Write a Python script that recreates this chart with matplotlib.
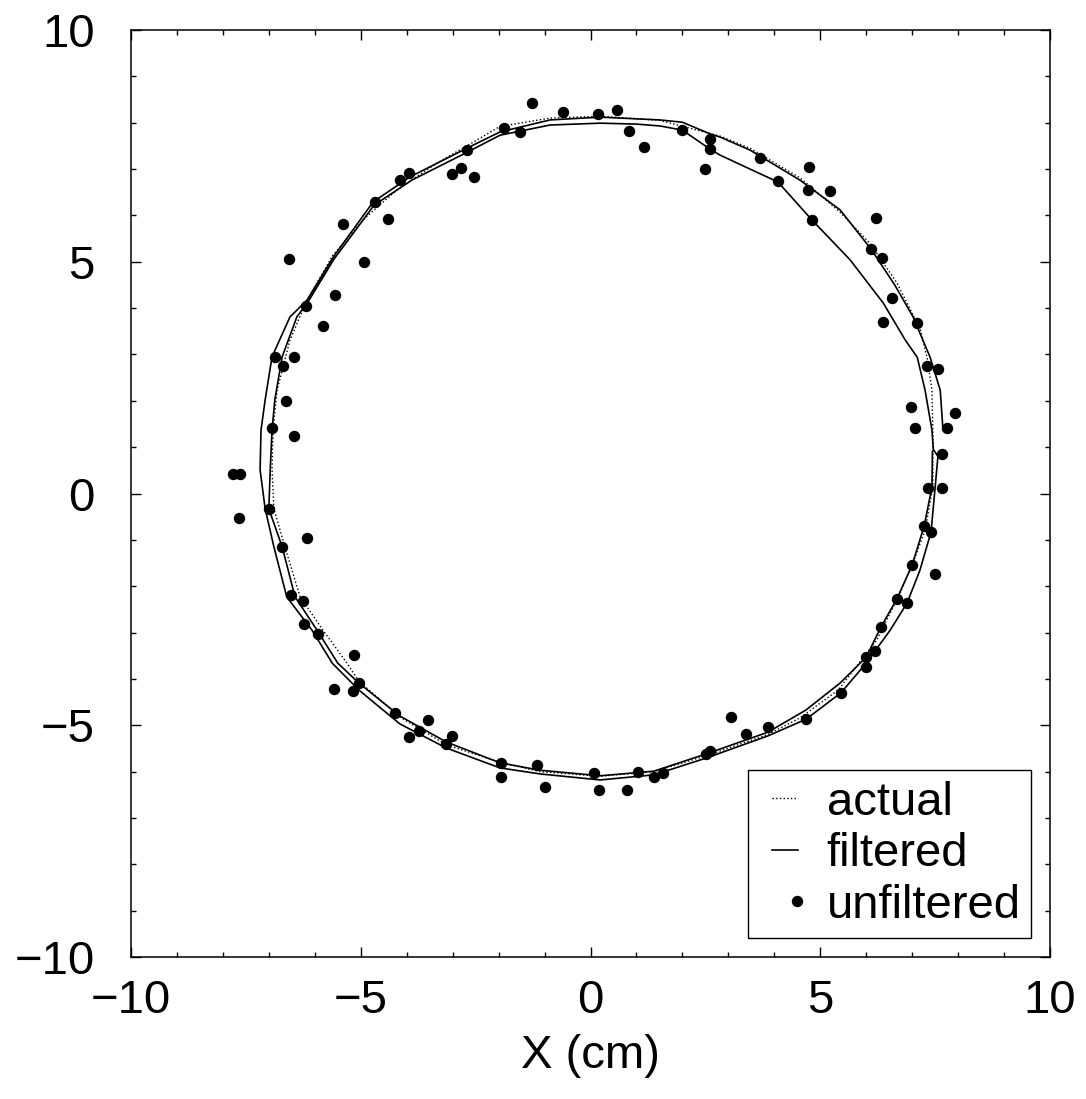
import numpy as np
import matplotlib.pyplot as plt
from matplotlib.legend_handler import HandlerLine2D

plt.rcParams['font.family'] = ['Liberation Sans', 'DejaVu Sans']

# actual trajectory (dotted), clockwise from the top
actual_x = [0.21, 1.51, 2.82, 3.47, 4.56, 5.43, 6.08, 6.67, 7.18, 7.33, 7.43, 7.45, 7.45,
            7.28, 7.00, 6.67, 6.23, 5.39, 4.56, 3.86,
            2.51, 1.38, 0.21, -1.10, -1.97, -3.14, -4.15, -5.04,
            -5.30, -5.82, -6.32, -6.65, -6.89, -6.93, -6.91,
            -6.82, -6.54, -6.17, -5.60, -4.91, -4.21, -3.34, -2.69, -1.97, -0.88, 0.21]
actual_y = [8.14, 8.05, 7.71, 7.45, 6.81, 6.07, 5.40, 4.54, 3.53, 2.90, 2.23, 1.31, 0.14,
            -0.79, -1.54, -2.28, -3.16, -4.24, -4.84, -5.20,
            -5.66, -6.00, -6.10, -6.00, -5.80, -5.42, -4.82, -4.05,
            -3.66, -2.95, -2.23, -1.15, -0.33, 0.51, 1.37,
            2.23, 3.31, 4.17, 5.15, 5.94, 6.55, 7.13, 7.50, 7.92, 8.10, 8.14]

# filtered estimate: goes round about twice (inner loop, then outer loop)
filt_x = [7.44, 7.43, 7.26, 7.00, 6.67, 6.32, 6.00, 5.43, 4.69, 3.86,
          2.51, 1.38, 0.21, -1.10, -1.97, -3.14, -4.15, -5.04,
          -5.50, -5.95, -6.43, -6.71, -7.00, -6.97, -6.93,
          -6.87, -6.71, -6.39, -6.15, -5.58, -4.71, -3.89, -2.67, -1.97, -0.88, 0.21, 1.00, 1.51,
          2.00, 2.60, 2.82,
          3.47, 4.08, 4.82, 5.65, 6.37, 6.85, 7.11, 7.28, 7.43, 7.46,
          7.56, 7.50, 7.41, 7.17, 6.89, 6.52, 6.19, 5.87, 5.45, 4.69, 3.86,
          2.51, 1.38, 0.21, -1.10, -1.97, -3.14, -4.15, -5.04,
          -5.62, -6.06, -6.61, -6.89, -7.08, -7.19, -7.17,
          -7.08, -6.93, -6.54, -6.17, -5.60, -4.73, -3.93, -2.69, -1.97, -0.88, 0.21, 1.51,
          2.00, 2.60, 2.82,
          3.47, 4.56, 5.43, 6.10, 6.62, 7.02, 7.39, 7.61, 7.67]
filt_y = [0.90, 0.14, -0.70, -1.54, -2.27, -2.88, -3.53, -4.09, -4.67, -5.15,
          -5.62, -5.99, -6.09, -5.97, -5.81, -5.36, -4.80, -4.09,
          -3.66, -2.95, -2.23, -1.15, -0.33, 0.51, 1.37,
          2.02, 2.95, 3.81, 4.13, 5.06, 6.22, 6.76, 7.37, 7.73, 7.95, 7.99, 7.97, 7.93,
          7.84, 7.43, 7.30,
          7.00, 6.72, 5.90, 5.04, 4.11, 3.31, 2.94, 2.23, 1.37, 0.95,
          0.80, 0.14, -0.83, -1.65, -2.36, -2.95, -3.40, -3.81, -4.30, -4.87, -5.23,
          -5.71, -6.07, -6.18, -6.05, -5.92, -5.49, -4.97, -4.24,
          -3.66, -2.95, -2.23, -1.15, -0.33, 0.51, 1.37,
          2.02, 2.95, 3.81, 4.17, 5.10, 6.29, 6.83, 7.45, 7.80, 8.06, 8.12, 8.06,
          8.01, 7.76, 7.69,
          7.41, 6.76, 6.12, 5.28, 4.50, 3.81, 2.94, 2.23, 1.37]

# raw (unfiltered) measurements
raw_x = [-2.69, -3.95, -4.15, -3.01, -2.82, -2.54, -4.69, -4.41, -5.39, -6.56,
         -4.93, -5.56, -6.19, -5.82, -6.87, -6.45, -6.69, -6.63, -6.93,
         -1.88, -1.53, -1.27, -0.60, 0.16, 0.58, 0.84, 1.16, 1.99, 2.60, 2.60, 2.49, 3.69, 4.08,
         4.76, 4.73, 5.21, 4.82, 6.21, 6.10, 6.34, 6.56, 6.37, 7.11, 7.32, 7.56, 6.97, 7.93,
         7.06, 7.76,
         7.65, 7.34, 7.65, 7.26, 7.41, 7.50, 7.00, 6.67, 6.89, 6.32, 6.19, 6.00, 6.00, 5.45,
         4.69, 3.86,
         3.38, 3.06, 2.60, 2.51, 1.58, 1.38, 1.03, 0.79, 0.18, 0.08, -0.99, -1.16, -1.95,
         -1.95, -3.01, -3.14, -3.54, -3.73, -3.95, -4.25, -5.04, -5.15, -5.17, -5.58,
         -6.45, -7.78, -7.63, -7.65, -7.00, -6.17, -6.71, -6.52, -6.26, -6.24, -5.93]
raw_y = [7.41, 6.91, 6.76, 6.89, 7.02, 6.83, 6.29, 5.92, 5.81, 5.06,
         4.99, 4.28, 4.05, 3.61, 2.94, 2.94, 2.75, 2.00, 1.41,
         7.89, 7.80, 8.43, 8.23, 8.19, 8.27, 7.82, 7.48, 7.84, 7.65, 7.43, 7.00, 7.24, 6.74,
         7.04, 6.55, 6.53, 5.90, 5.94, 5.28, 5.08, 4.22, 3.70, 3.68, 2.75, 2.69, 1.87, 1.74,
         1.41, 1.41,
         0.85, 0.12, 0.12, -0.70, -0.83, -1.74, -1.54, -2.28, -2.36, -2.88, -3.40, -3.53, -3.74, -4.30,
         -4.87, -5.04,
         -5.19, -4.82, -5.56, -5.62, -6.03, -6.12, -6.01, -6.40, -6.40, -6.03, -6.33, -5.86, -5.81,
         -6.12, -5.23, -5.40, -4.89, -5.12, -5.25, -4.74, -4.09, -3.48, -4.26, -4.22,
         1.24, 0.42, 0.42, -0.53, -0.33, -0.96, -1.15, -2.19, -2.32, -2.82, -3.03]

fig = plt.figure(figsize=(10.86, 10.99), dpi=100)
ax = fig.add_axes([0.1206, 0.1292, 0.8463, 0.8435])

(l1,) = ax.plot(actual_x, actual_y, color='black', ls=':', lw=1.0, label='actual')
(l2,) = ax.plot(filt_x, filt_y, color='black', ls='-', lw=1.2, label='filtered')
(l3,) = ax.plot(raw_x, raw_y, ls='none', marker='o', ms=7.2, color='black', label='unfiltered')

ax.set_xlim(-10, 10)
ax.set_ylim(-10, 10)
ax.set_xticks([-10, -5, 0, 5, 10])
ax.set_yticks([-10, -5, 0, 5, 10])
ax.set_xticks(np.arange(-10, 11, 1), minor=True)
ax.set_yticks(np.arange(-10, 11, 1), minor=True)
ax.tick_params(which='both', direction='in', top=True, right=True, width=1.0)
ax.tick_params(which='major', length=7, labelsize=34)
ax.tick_params(which='minor', length=3.5)
ax.tick_params(axis='x', which='major', pad=16)
ax.tick_params(axis='y', which='major', pad=26)
for s in ax.spines.values():
    s.set_linewidth(1.1)

ax.set_xlabel('X (cm)', fontsize=34, labelpad=8)

# short handles sitting at the right of the handle box, dot at the right end
hmap = {l1: HandlerLine2D(xpad=0.28), l2: HandlerLine2D(xpad=0.28),
        l3: HandlerLine2D(xpad=0.8)}
leg = ax.legend(handles=[l1, l2, l3], handler_map=hmap, loc='lower right',
                fontsize=34, numpoints=1, fancybox=False, framealpha=1,
                edgecolor='black', handlelength=0.85, handletextpad=0.6,
                labelspacing=0.16, borderaxespad=0.4, borderpad=0.22)
leg.get_frame().set_linewidth(1.0)

plt.savefig('out.png', dpi=100)
